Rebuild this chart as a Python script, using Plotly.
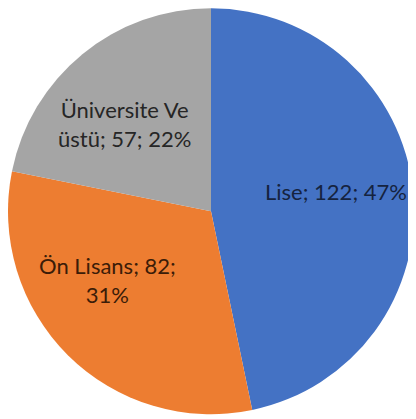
import plotly.graph_objects as go

# education level counts
labels = ["Lise", "Ön Lisans", "Üniversite Ve üstü"]
values = [122, 82, 57]
colors = ["#4472C4", "#ED7D31", "#A5A5A5"]
text_colors = ["#15233f", "#3b1c08", "#262626"]

# where each label sits (paper coords) and where its line breaks
label_pos = [(0.788, 0.563), (0.240, 0.351), (0.281, 0.723)]
label_lines = [["Lise; {v}; {p}%"], ["Ön Lisans; {v};", "{p}%"], ["Üniversite Ve", "üstü; {v}; {p}%"]]

total = sum(values)

fig = go.Figure(go.Pie(
    labels=labels,
    values=values,
    sort=False,
    direction="clockwise",
    rotation=0,
    marker=dict(colors=colors, line=dict(width=0)),
    textinfo="none",
    hoverinfo="label+value+percent",
    domain=dict(x=[0.0, 406 / 416], y=[0.03, 1.0]),
    showlegend=False,
))

for i, lab in enumerate(labels):
    pct = round(values[i] / total * 100)
    txt = "<br>".join(l.format(v=values[i], p=pct) for l in label_lines[i])
    fig.add_annotation(
        x=label_pos[i][0], y=label_pos[i][1], xref="paper", yref="paper",
        xanchor="center", yanchor="middle",
        text=txt, showarrow=False, align="center",
        font=dict(family="Lato, Open Sans, sans-serif", size=22, color=text_colors[i]),
    )

fig.update_layout(
    width=416, height=419,
    margin=dict(l=0, r=0, t=0, b=0),
    paper_bgcolor="white",
    plot_bgcolor="white",
)

fig.write_html("out.html")
